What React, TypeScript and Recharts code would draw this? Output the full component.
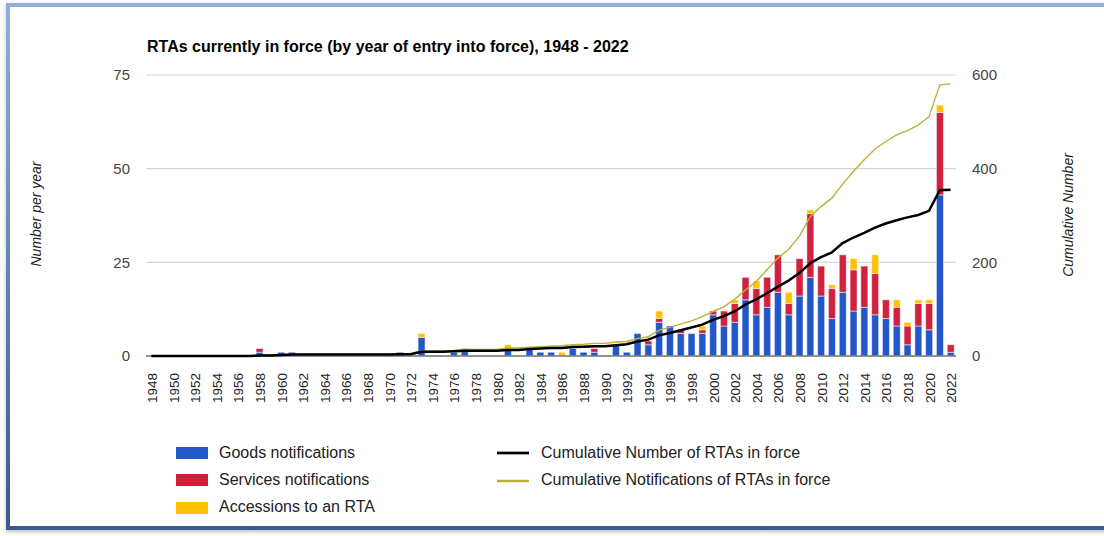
import { ComposedChart, Bar, Line, XAxis, YAxis, CartesianGrid, ReferenceLine } from "recharts";

const years = [
  "1948", "1949", "1950", "1951", "1952", "1953", "1954", "1955", "1956", "1957",
  "1958", "1959", "1960", "1961", "1962", "1963", "1964", "1965", "1966", "1967",
  "1968", "1969", "1970", "1971", "1972", "1973", "1974", "1975", "1976", "1977",
  "1978", "1979", "1980", "1981", "1982", "1983", "1984", "1985", "1986", "1987",
  "1988", "1989", "1990", "1991", "1992", "1993", "1994", "1995", "1996", "1997",
  "1998", "1999", "2000", "2001", "2002", "2003", "2004", "2005", "2006", "2007",
  "2008", "2009", "2010", "2011", "2012", "2013", "2014", "2015", "2016", "2017",
  "2018", "2019", "2020", "2021", "2022",
];

// bars, per year (1948 -> 2022)
const goods = [
  0, 0, 0, 0, 0, 0, 0, 0, 0, 0,
  1, 0, 1, 1, 0, 0, 0, 0, 0, 0,
  0, 0, 0, 1, 0, 5, 0, 0, 1, 2,
  0, 0, 0, 2, 0, 2, 1, 1, 0, 2,
  1, 1, 0, 3, 1, 6, 3, 9, 8, 6,
  6, 6, 11, 8, 9, 15, 11, 13, 17, 11,
  16, 21, 16, 10, 17, 12, 13, 11, 10, 8,
  3, 8, 7, 43, 1,
];
const services = [
  0, 0, 0, 0, 0, 0, 0, 0, 0, 0,
  1, 0, 0, 0, 0, 0, 0, 0, 0, 0,
  0, 0, 0, 0, 0, 0, 0, 0, 0, 0,
  0, 0, 0, 0, 0, 0, 0, 0, 0, 0,
  0, 1, 0, 0, 0, 0, 1, 1, 0, 1,
  0, 1, 1, 4, 5, 6, 7, 8, 10, 3,
  10, 17, 8, 8, 10, 11, 11, 11, 5, 5,
  5, 6, 7, 22, 2,
];
const accessions = [
  0, 0, 0, 0, 0, 0, 0, 0, 0, 0,
  0, 0, 0, 0, 0, 0, 0, 0, 0, 0,
  0, 0, 0, 0, 0, 1, 0, 0, 0, 0,
  0, 0, 0, 1, 0, 0, 0, 0, 1, 0,
  0, 0, 0, 0, 0, 0, 0, 2, 0, 0,
  0, 1, 0, 0, 1, 0, 2, 0, 0, 3,
  0, 1, 0, 1, 0, 3, 0, 5, 0, 2,
  1, 1, 1, 2, 0,
];

// lines, right axis
const cumRTAs = [
  0, 0, 0, 0, 0, 0, 0, 0, 0, 0,
  1, 1, 2, 3, 3, 3, 3, 3, 3, 3,
  3, 3, 3, 4, 4, 9, 9, 9, 10, 11,
  11, 11, 11, 13, 13, 15, 16, 17, 17, 19,
  20, 21, 21, 23, 25, 31, 35, 44, 49, 55,
  61, 67, 77, 85, 95, 110, 121, 134, 148, 161,
  177, 198, 211, 221, 241, 253, 263, 274, 283, 290,
  296, 301, 310, 354, 355,
];
const cumNotifs = [
  0, 0, 0, 0, 0, 0, 0, 0, 0, 0,
  2, 2, 3, 4, 4, 4, 4, 4, 4, 4,
  4, 4, 4, 5, 5, 11, 11, 11, 12, 14,
  14, 14, 14, 17, 17, 19, 20, 21, 22, 24,
  25, 27, 27, 30, 31, 37, 41, 55, 61, 68,
  75, 84, 95, 105, 121, 141, 159, 184, 209, 228,
  256, 297, 319, 337, 367, 394, 419, 442, 458, 472,
  481, 493, 511, 579, 581,
];

const leftTicks = [0, 25, 50, 75];
const rightTicks = [0, 200, 400, 600];

const BLUE = "#2157c9";
const RED = "#d0223f";
const YELLOW = "#ffc107";
const GOLD = "#bdb03a";

const data = years.map((y, i) => ({
  year: y,
  goods: goods[i],
  services: services[i],
  accessions: accessions[i],
  cumRTAs: cumRTAs[i],
  cumNotifs: cumNotifs[i],
}));

const FONT = "'Liberation Sans', Arial, sans-serif";

function YearTick({ x, y, payload }: any) {
  return (
    <text x={x} y={y} dy={1} transform={`rotate(-90, ${x}, ${y})`} textAnchor="end"
      dominantBaseline="central" fontSize={13.5} fill="#222" fontFamily={FONT}>
      {payload.value}
    </text>
  );
}

export default function App() {
  return (
    <div style={{ position: "fixed", left: 0, top: 0, width: 1104, height: 536, background: "#fff", overflow: "hidden", fontFamily: FONT }}>
      <div style={{
        position: "absolute", left: 6, top: 3, width: 1130, height: 527, boxSizing: "border-box",
        border: "4px solid #8fb0d8", borderImage: "linear-gradient(to bottom, #8fb0d8, #3b5a8c) 1",
        boxShadow: "0 2px 4px rgba(0,0,0,0.25)",
      }} />
      <div style={{ position: "absolute", left: 0, top: 0 }}>
        <ComposedChart width={1104} height={536} data={data}
          margin={{ top: 75, right: 88, bottom: 130, left: 86 }} barCategoryGap="19%">
          <CartesianGrid yAxisId="left" vertical={false} stroke="#d6d6d6" strokeWidth={1.2} />
          <XAxis dataKey="year" interval={1} tickLine={false} axisLine={false} tickSize={0} tickMargin={17}
            height={50} tick={<YearTick />} />
          <YAxis yAxisId="left" orientation="left" width={60} domain={[0, 75]} ticks={leftTicks}
            axisLine={false} tickLine={false} tickSize={0} tickMargin={16}
            tick={{ fontSize: 15, fill: "#444" }} />
          <YAxis yAxisId="right" orientation="right" width={60} domain={[0, 600]} ticks={rightTicks}
            axisLine={false} tickLine={false} tickSize={0} tickMargin={16}
            tick={{ fontSize: 15, fill: "#444" }} />
          <Bar yAxisId="left" dataKey="goods" stackId="a" fill={BLUE} stroke="#fff" strokeWidth={0.5} isAnimationActive={false} />
          <Bar yAxisId="left" dataKey="services" stackId="a" fill={RED} stroke="#fff" strokeWidth={0.5} isAnimationActive={false} />
          <Bar yAxisId="left" dataKey="accessions" stackId="a" fill={YELLOW} stroke="#fff" strokeWidth={0.5} isAnimationActive={false} />
          <ReferenceLine yAxisId="left" y={0} stroke="#777" strokeWidth={1.5} />
          <Line yAxisId="right" type="linear" dataKey="cumNotifs" stroke={GOLD} strokeWidth={1.4} dot={false} activeDot={false} isAnimationActive={false} />
          <Line yAxisId="right" type="linear" dataKey="cumRTAs" stroke="#000" strokeWidth={2.5} dot={false} activeDot={false} isAnimationActive={false} />
        </ComposedChart>
      </div>
      <svg width={1104} height={536} style={{ position: "absolute", left: 0, top: 0, pointerEvents: "none" }} fontFamily={FONT}>
        <text x={147} y={51.5} fontSize={16} fontWeight="bold" fill="#000">
          RTAs currently in force (by year of entry into force), 1948 - 2022
        </text>
        <text x={41} y={214} transform="rotate(-90, 41, 214)" textAnchor="middle" fontSize={14} fontStyle="italic" fill="#222">
          Number per year
        </text>
        <text x={1073} y={215} transform="rotate(-90, 1073, 215)" textAnchor="middle" fontSize={14} fontStyle="italic" fill="#222">
          Cumulative Number
        </text>

        <rect x={176} y={447} width={32} height={12} fill={BLUE} />
        <text x={219} y={458} fontSize={16} fill="#222">Goods notifications</text>
        <rect x={176} y={474} width={32} height={12} fill={RED} />
        <text x={219} y={485} fontSize={16} fill="#222">Services notifications</text>
        <rect x={176} y={502} width={32} height={12} fill={YELLOW} />
        <text x={219} y={512} fontSize={16} fill="#222">Accessions to an RTA</text>

        <line x1={497} x2={529} y1={453} y2={453} stroke="#000" strokeWidth={2.7} />
        <text x={541} y={458} fontSize={16} fill="#222">Cumulative Number of RTAs in force</text>
        <line x1={497} x2={529} y1={481} y2={481} stroke={GOLD} strokeWidth={2.5} />
        <text x={541} y={485} fontSize={16} fill="#222">Cumulative Notifications of RTAs in force</text>
      </svg>
    </div>
  );
}
